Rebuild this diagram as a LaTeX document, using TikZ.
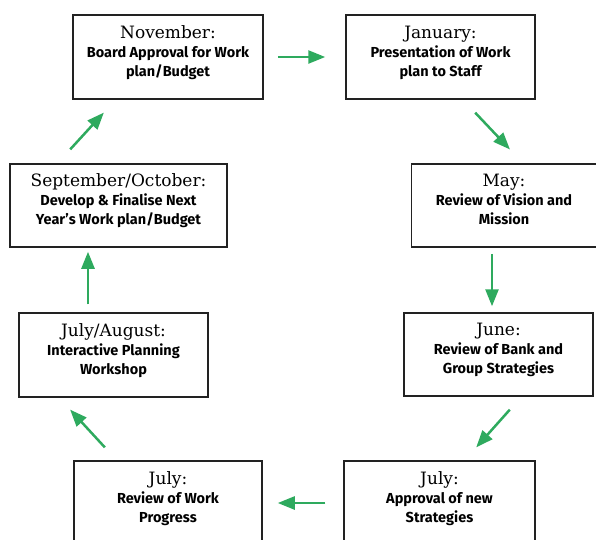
\documentclass[tikz,border=0pt]{standalone}
\usepackage{fontspec}
\setmainfont{Fira Sans}
\newfontfamily\slabfont{DejaVu Serif}
\usetikzlibrary{arrows.meta}

\definecolor{planGreen}{HTML}{2EAA5E}
\definecolor{boxLine}{HTML}{222222}

\newcommand{\mtitle}[1]{{\slabfont\mdseries\fontsize{17}{19}\selectfont #1}}

\begin{document}
\begin{tikzpicture}[
  x = 1pt, y = -1pt,
  month/.style={draw=boxLine, line width=1.5pt, minimum height=84pt, align=center, inner sep=0pt,
    font=\bfseries\fontsize{14.5}{19}\selectfont, text depth=12pt},
  arrow/.style={-{Triangle[length=17pt, width=13pt]}, line width=2.5pt, color=planGreen}
]
    \useasboundingbox (0,0) rectangle (596,539);

    % top row
    \node (nov) at (168, 57) [month, minimum width=190pt] {\mtitle{November:}\\ Board Approval for Work\\ plan/Budget};
    \node (jan) at (440.5, 57) [month, minimum width=189pt] {\mtitle{January:}\\ Presentation of Work\\ plan to Staff};

    % right side
    \node (may) at (504, 205.5) [month, minimum width=185pt, minimum height=83pt] {\mtitle{May:}\\ Review of Vision and\\ Mission};
    \node (june) at (498.5, 354.5) [month, minimum width=189pt, minimum height=83pt] {\mtitle{June:}\\ Review of Bank and\\ Group Strategies};

    % bottom row
    \node (julyR) at (439.5, 503) [month, minimum width=191pt] {\mtitle{July:}\\ Approval of new\\ Strategies};
    \node (julyL) at (168, 503) [month, minimum width=188pt] {\mtitle{July:}\\ Review of Work\\ Progress};

    % left side
    \node (julyAug) at (113.5, 355) [month, minimum width=189pt] {\mtitle{July/August:}\\ Interactive Planning\\ Workshop};
    \node (sepOct) at (118.5, 205.5) [month, minimum width=217pt, minimum height=83pt] {\mtitle{September/October:}\\ Develop \& Finalise Next\\ Year’s Work plan/Budget};

    % Arrows
    \draw[arrow, shorten <=14pt, shorten >=20pt] (nov) -- (jan);
    \draw[arrow, shorten <=17.7pt, shorten >=19pt] ([xshift=22.5pt]jan.south) -- ([xshift=19pt]may.north);
    \draw[arrow, shorten <=6pt, shorten >=6pt] ([xshift=-12pt]may.south) -- ([xshift=-6.5pt]june.north);
    \draw[arrow, shorten <=17.3pt, shorten >=17.3pt] ([xshift=22.8pt]june.south) -- ([xshift=25.2pt]julyR.north);
    \draw[arrow, shorten <=18pt, shorten >=15pt] (julyR) -- (julyL);
    \draw[arrow, shorten <=17.5pt, shorten >=16.1pt] ([xshift=-51.3pt]julyL.north) -- ([xshift=-54.3pt]julyAug.south);
    \draw[arrow, shorten <=8pt, shorten >=4pt] ([xshift=-25.5pt]julyAug.north) -- ([xshift=-30.5pt]sepOct.south);
    \draw[arrow, shorten <=18.8pt, shorten >=17.4pt] ([xshift=-61pt]sepOct.north) -- ([xshift=-52.4pt]nov.south);
\end{tikzpicture}
\end{document}
